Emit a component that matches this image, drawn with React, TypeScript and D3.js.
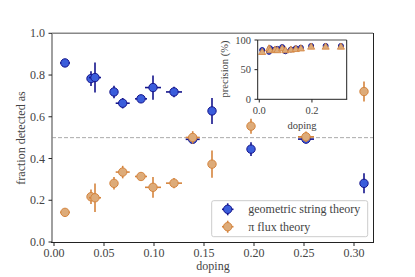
import React from "react";
import * as d3 from "d3";

// doping values shared by both series
const doping = [0.011, 0.037, 0.041, 0.06, 0.0687, 0.087, 0.099, 0.12, 0.1387, 0.158, 0.197, 0.252, 0.31];
const dopingErr = [0.005, 0.004, 0.006, 0.004, 0.007, 0.006, 0.008, 0.008, 0.007, 0.002, 0.003, 0.008, 0.003];

const stringFrac = [0.858, 0.783, 0.788, 0.719, 0.665, 0.686, 0.74, 0.719, 0.492, 0.628, 0.445, 0.493, 0.281];
const stringErr = [0.006, 0.035, 0.072, 0.03, 0.025, 0.01, 0.058, 0.025, 0.02, 0.062, 0.033, 0.02, 0.048];

const piFrac = [0.142, 0.217, 0.212, 0.281, 0.335, 0.314, 0.262, 0.282, 0.501, 0.373, 0.555, 0.504, 0.721];
const piErr = [0.006, 0.035, 0.068, 0.03, 0.03, 0.015, 0.05, 0.025, 0.03, 0.065, 0.036, 0.025, 0.048];

// inset: precision (%)
const stringPrec = [83, 80, 86, 84, 85, 88, 81, 84, 86, 87, 90, 90, 90];
const piPrec = [79, 85, 82, 83, 82, 85, 82, 83, 84, 85, 88, 88, 88];

const xTicks = [0, 0.05, 0.1, 0.15, 0.2, 0.25, 0.3];
const yTicks = [0, 0.2, 0.4, 0.6, 0.8, 1.0];
const insetXTicks = [0, 0.2];
const insetYTicks = [0, 50, 100];

const labels = ["geometric string theory", "\u03c0 flux theory"];

const BLUE = { fill: "#3b5ddb", stroke: "#14148c" };
const ORANGE = { fill: "#ddab79", stroke: "#d5843d" };
const FONT = "Liberation Serif, DejaVu Serif, serif";
const TXT = "#444";

export default function App() {
  const x = d3.scaleLinear().domain([-0.002, 0.319]).range([52, 373]);
  const y = d3.scaleLinear().domain([0, 1]).range([242, 33.3]);

  const ix = d3.scaleLinear().domain([-0.006, 0.332]).range([257.7, 346.7]);
  const iy = d3.scaleLinear().domain([0, 100]).range([99.3, 40]);

  const series = [
    { vals: stringFrac, err: stringErr, c: BLUE },
    { vals: piFrac, err: piErr, c: ORANGE },
  ];

  const tri = d3.symbol().type(d3.symbolTriangle).size(22)();

  return (
    <svg width={415} height={277} style={{ position: "fixed", left: 0, top: 0, background: "#fff", fontFamily: FONT }}>
      {/* dashed 0.5 line */}
      <line x1={52} x2={373} y1={y(0.5)} y2={y(0.5)} stroke="#aaa" strokeWidth={1} strokeDasharray="4,2" />

      {series.map((s, si) => (
        <g key={si}>
          {doping.map((d, i) => (
            <g key={i}>
              <line x1={x(d - dopingErr[i])} x2={x(d + dopingErr[i])} y1={y(s.vals[i])} y2={y(s.vals[i])} stroke={s.c.stroke} strokeWidth={1.6} />
              <line x1={x(d)} x2={x(d)} y1={y(s.vals[i] - s.err[i])} y2={y(s.vals[i] + s.err[i])} stroke={s.c.stroke} strokeWidth={1.6} />
              <circle cx={x(d)} cy={y(s.vals[i])} r={4.2} fill={s.c.fill} stroke={s.c.stroke} strokeWidth={1} />
            </g>
          ))}
        </g>
      ))}

      {/* main axes frame */}
      <line x1={52} x2={373} y1={33.3} y2={33.3} stroke="#888" strokeWidth={1.6} />
      <line x1={52} x2={52} y1={33} y2={242} stroke="#888" strokeWidth={1.6} />
      <line x1={51} x2={373.5} y1={242.5} y2={242.5} stroke="#222" strokeWidth={1} />
      <line x1={373.5} x2={373.5} y1={33} y2={243} stroke="#222" strokeWidth={1} />

      {xTicks.map((t) => (
        <g key={t}>
          <line x1={x(t)} x2={x(t)} y1={242.5} y2={246} stroke="#222" />
          <text x={x(t)} y={257} textAnchor="middle" fontSize={12} fill={TXT}>{t.toFixed(2)}</text>
        </g>
      ))}
      {yTicks.map((t) => (
        <g key={t}>
          <line x1={48.5} x2={52} y1={y(t)} y2={y(t)} stroke="#222" />
          <text x={45} y={y(t) + 4} textAnchor="end" fontSize={12} fill={TXT}>{t.toFixed(1)}</text>
        </g>
      ))}
      <text x={213} y={270} textAnchor="middle" fontSize={12} fill={TXT}>doping</text>
      <text transform={`translate(22,138) rotate(-90)`} textAnchor="middle" dominantBaseline="middle" fontSize={12} fill={TXT}>fraction detected as</text>

      {/* legend */}
      <rect x={211.7} y={200.7} width={156} height={36} rx={2} fill="#fff" fillOpacity={0.85} stroke="#ccc" />
      {[BLUE, ORANGE].map((c, i) => {
        const ly = 209.3 + i * 17.4;
        return (
          <g key={i}>
            <line x1={222} x2={233.5} y1={ly} y2={ly} stroke={c.stroke} strokeWidth={1.6} />
            <line x1={227.7} x2={227.7} y1={ly - 6} y2={ly + 6} stroke={c.stroke} strokeWidth={1.6} />
            <circle cx={227.7} cy={ly} r={4.2} fill={c.fill} stroke={c.stroke} />
            <text x={248.3} y={ly + 4} fontSize={12} fill={TXT}>{labels[i]}</text>
          </g>
        );
      })}

      {/* inset */}
      <rect x={257.7} y={40} width={89} height={59.3} fill="#fff" />
      {doping.map((d, i) => (
        <circle key={"b" + i} cx={ix(d)} cy={iy(stringPrec[i])} r={2.5} fill={BLUE.fill} stroke={BLUE.stroke} strokeWidth={1} />
      ))}
      {doping.map((d, i) => (
        <path key={"o" + i} d={tri!} transform={`translate(${ix(d)},${iy(piPrec[i])})`} fill={ORANGE.fill} stroke={ORANGE.stroke} strokeWidth={0.8} />
      ))}
      <line x1={257.7} x2={346.7} y1={40} y2={40} stroke="#888" strokeWidth={1.6} />
      <line x1={257.7} x2={257.7} y1={40} y2={99.3} stroke="#222" />
      <line x1={257.2} x2={347.2} y1={99.3} y2={99.3} stroke="#222" />
      <line x1={346.7} x2={346.7} y1={40} y2={99.3} stroke="#222" />
      {insetXTicks.map((t) => (
        <g key={t}>
          <line x1={ix(t)} x2={ix(t)} y1={99.3} y2={102.5} stroke="#222" />
          <text x={ix(t)} y={114} textAnchor="middle" fontSize={10.5} fill={TXT}>{t.toFixed(1)}</text>
        </g>
      ))}
      {insetYTicks.map((t) => (
        <g key={t}>
          <line x1={254.5} x2={257.7} y1={iy(t)} y2={iy(t)} stroke="#222" />
          <text x={251} y={iy(t) + 3.5} textAnchor="end" fontSize={10.5} fill={TXT}>{t}</text>
        </g>
      ))}
      <text x={302} y={128.5} textAnchor="middle" fontSize={10.5} fill={TXT}>doping</text>
      <text transform={`translate(226,69) rotate(-90)`} textAnchor="middle" dominantBaseline="middle" fontSize={10.5} fill={TXT}>precision (%)</text>
    </svg>
  );
}
